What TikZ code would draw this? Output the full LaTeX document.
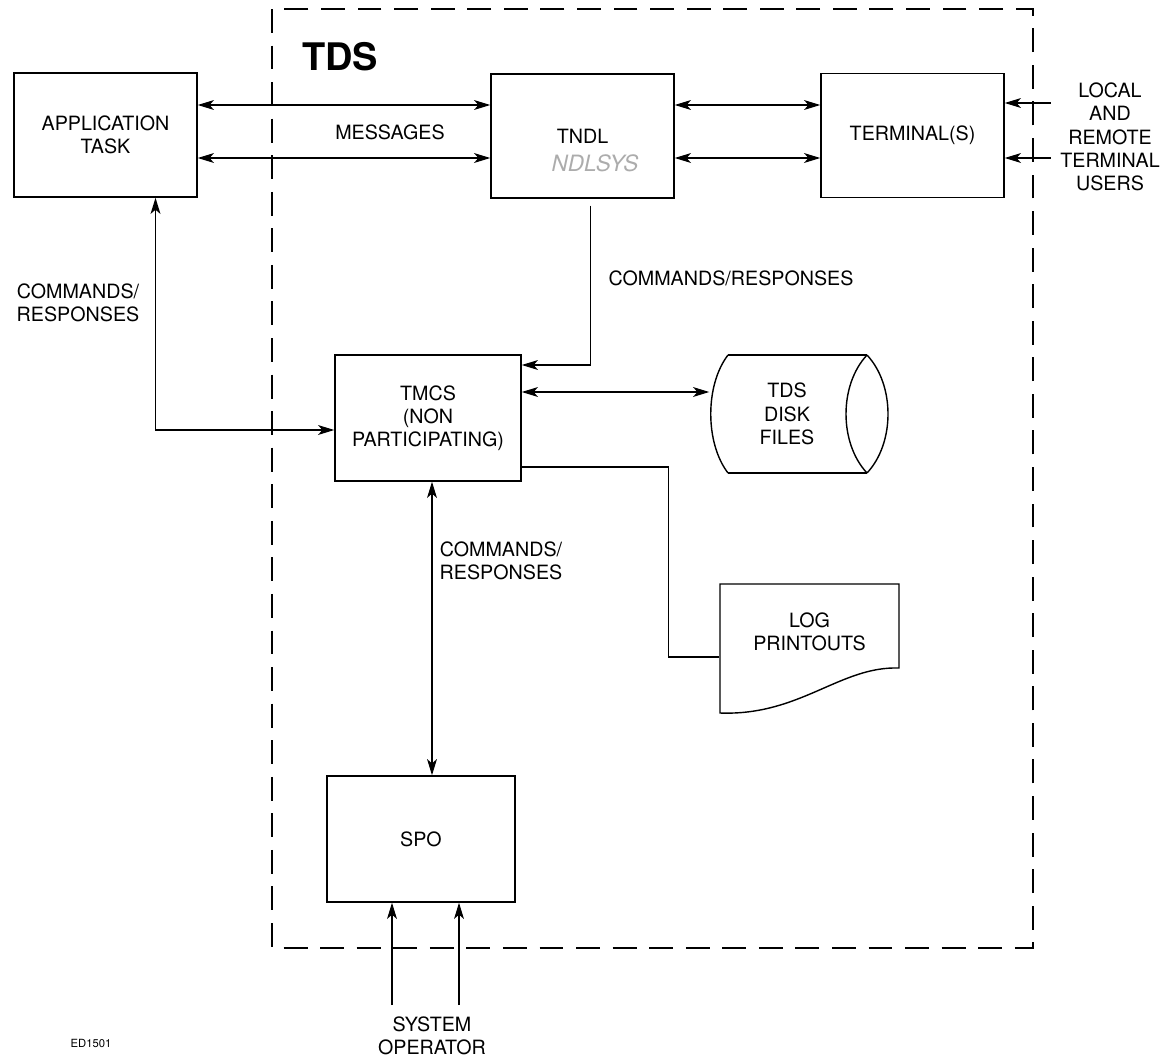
\documentclass[tikz,border=0pt]{standalone}
\usepackage{fontspec}
\setmainfont{TeX Gyre Heros}
\usepackage{tikz}
\usetikzlibrary{arrows.meta,calc}

\begin{document}
\begin{tikzpicture}[x=0.025cm, y=-0.025cm, line width=1pt,
  font=\fontsize{14}{16.5}\selectfont,
  >={Stealth[length=11.5pt,width=7pt,inset=3pt]},
  blk/.style={draw, align=center, minimum width=4.575cm, minimum height=3.1cm, inner sep=0pt},
  lbl/.style={align=center, inner sep=0pt}]
  \useasboundingbox (0,0) rectangle (1176,1061);
  \draw[dash pattern=on 17pt off 9pt] (272,9) rectangle (1033,948);
  \node[lbl, font=\fontsize{27}{30}\selectfont\bfseries] (tds) at (340,57) {TDS};

  \node[blk] (app) at (105.5,135) {APPLICATION\\TASK};
  \node[blk] (tndl) at (582.5,136) {TNDL};
  \node[lbl, text=gray!65, font=\fontsize{16}{18}\selectfont\itshape] (ndlsys) at (595,163) {NDLSYS};
  \node[blk] (term) at (912.5,135.5) {TERMINAL(S)};
  \node[blk, minimum width=4.65cm, minimum height=3.15cm] (tmcs) at (428,418) {TMCS\\(NON\\PARTICIPATING)};
  \node[blk, minimum width=4.7cm, minimum height=3.15cm] (spo) at (421,839) {SPO};
  \node[lbl, minimum width=3.85cm] (disk) at (787,414) {TDS\\DISK\\FILES};
  \node[lbl, minimum width=4.475cm] (log) at (809.5,632) {LOG\\PRINTOUTS};
  \node[lbl] (users) at (1110,137) {LOCAL\\AND\\REMOTE\\TERMINAL\\USERS};
  \node[lbl] (oper) at (432,1036) {SYSTEM\\OPERATOR};
  \node[lbl] (msg) at (390,132) {MESSAGES};
  \node[lbl] (cr1) at (78,303) {COMMANDS/\\RESPONSES};
  \node[lbl] (cr2) at (731,278) {COMMANDS/RESPONSES};
  \node[lbl] (cr3) at (501,561) {COMMANDS/\\RESPONSES};
  \node[lbl, font=\fontsize{8}{9}\selectfont] (code) at (91,1043) {ED1501};

  % disk and printout outlines
  \draw (728,355) -- (867,355) (728,473) -- (867,473);
  \draw (728,355) .. controls (705,385) and (705,443) .. (728,473);
  \draw (867,355) .. controls (895,385) and (895,443) .. (867,473);
  \draw (867,355) .. controls (839,385) and (839,443) .. (867,473);
  \draw (720,584) -- (899,584) -- (899,668) .. controls (840,666) and (800,716) .. (720,713) -- cycle;

  \draw[<->] ($(app.east)+(0,-30)$) coordinate (m1) -- (m1 -| tndl.west);
  \draw[<->] ($(app.east)+(0,23)$) coordinate (m2) -- (m2 -| tndl.west);
  \draw[<->] (m1 -| tndl.east) -- (m1 -| term.west);
  \draw[<->] (m2 -| tndl.east) -- (m2 -| term.west);
  \draw[->] ($(m1 -| users.west)+(-9,-2)$) -- ($(m1 -| term.east)+(0,-2)$);
  \draw[->] ($(m2 -| users.west)+(-9,0)$) -- (m2 -| term.east);
  \draw[->] ($(tndl.south)+(8,7)$) |- ($(tmcs.east)+(0,-53)$);
  \draw[<->] ($(app.south)+(50,0)$) |- ($(tmcs.west)+(0,12)$);
  \draw[<->] ($(tmcs.east)+(0,-26)$) coordinate (d1) -- (d1 -| disk.west);
  \draw ($(tmcs.east)+(0,49)$) -- ++(147,0) |- ($(log.west)+(0,25)$);
  \draw[<->] ($(tmcs.south)+(4,0)$) coordinate (s1) -- (s1 |- spo.north);
  \coordinate (o1) at (392,1005); \coordinate (o2) at (459,1005);
  \draw[->] (o1) -- (o1 |- spo.south);
  \draw[->] (o2) -- (o2 |- spo.south);
\end{tikzpicture}
\end{document}
